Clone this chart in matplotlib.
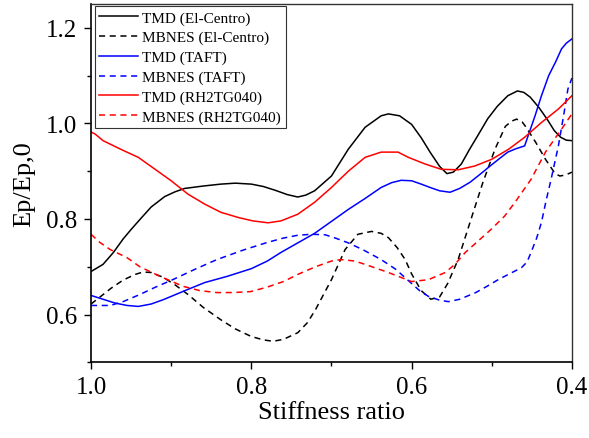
import matplotlib
matplotlib.use('Agg')
import matplotlib.pyplot as plt
from matplotlib.ticker import MultipleLocator

plt.rcParams['font.family'] = ['Liberation Serif', 'DejaVu Serif']

# TMD, El-Centro
x_tmd_el = [1.0, 0.985, 0.972, 0.96, 0.95, 0.94, 0.925, 0.908, 0.895, 0.883, 0.86,
            0.838, 0.82, 0.80, 0.785, 0.77, 0.755, 0.742, 0.732, 0.721, 0.70, 0.679,
            0.658, 0.638, 0.629, 0.615, 0.60, 0.588, 0.577, 0.565, 0.556, 0.548,
            0.538, 0.528, 0.518, 0.505, 0.493, 0.48, 0.468, 0.46, 0.452, 0.441,
            0.431, 0.422, 0.414, 0.407, 0.40]
y_tmd_el = [0.69, 0.705, 0.73, 0.758, 0.778, 0.797, 0.825, 0.847, 0.857, 0.864, 0.869,
            0.873, 0.875, 0.873, 0.868, 0.86, 0.851, 0.846, 0.85, 0.859, 0.89, 0.946,
            0.992, 1.016, 1.02, 1.016, 0.998, 0.97, 0.94, 0.91, 0.895, 0.898,
            0.915, 0.945, 0.973, 1.01, 1.036, 1.058, 1.068, 1.065, 1.055, 1.033,
            1.009, 0.985, 0.971, 0.965, 0.964]

# MBNES, El-Centro
x_mb_el = [1.0, 0.99, 0.975, 0.96, 0.945, 0.935, 0.925, 0.91, 0.895, 0.879, 0.86,
           0.838, 0.82, 0.80, 0.785, 0.773, 0.76, 0.742, 0.73, 0.72, 0.70, 0.683,
           0.667, 0.65, 0.638, 0.629, 0.618, 0.608, 0.60, 0.588, 0.576, 0.565,
           0.555, 0.542, 0.526, 0.511, 0.496, 0.483, 0.475, 0.469, 0.462, 0.458,
           0.445, 0.433, 0.421, 0.415, 0.408, 0.40]
y_mb_el = [0.622, 0.635, 0.655, 0.672, 0.684, 0.689, 0.688, 0.678, 0.662, 0.642, 0.615,
           0.589, 0.57, 0.554, 0.547, 0.544, 0.548, 0.562, 0.583, 0.61, 0.673, 0.736,
           0.768, 0.774, 0.77, 0.761, 0.74, 0.715, 0.685, 0.65, 0.632, 0.637,
           0.665, 0.715, 0.799, 0.877, 0.946, 0.994, 1.005, 1.009, 1.003, 0.994,
           0.96, 0.925, 0.895, 0.89, 0.892, 0.898]

# TMD, TAFT
x_tmd_taft = [1.0, 0.985, 0.97, 0.955, 0.941, 0.925, 0.91, 0.90, 0.88, 0.858, 0.83,
              0.80, 0.78, 0.763, 0.742, 0.721, 0.70, 0.679, 0.658, 0.638, 0.625,
              0.613, 0.60, 0.588, 0.577, 0.565, 0.552, 0.54, 0.527, 0.515, 0.502,
              0.49, 0.48, 0.47, 0.459, 0.446, 0.438, 0.429, 0.42, 0.413, 0.407, 0.40]
y_tmd_taft = [0.64, 0.632, 0.624, 0.619, 0.617, 0.622, 0.631, 0.638, 0.652, 0.667, 0.68,
              0.696, 0.712, 0.73, 0.75, 0.77, 0.795, 0.82, 0.843, 0.866, 0.876,
              0.881, 0.88, 0.873, 0.866, 0.859, 0.856, 0.864, 0.877, 0.893, 0.911,
              0.927, 0.94, 0.947, 0.953, 1.016, 1.058, 1.1, 1.13, 1.156, 1.168, 1.177]

# MBNES, TAFT
x_mb_taft = [1.0, 0.976, 0.96, 0.939, 0.92, 0.898, 0.87, 0.843, 0.81, 0.78, 0.76,
             0.742, 0.725, 0.708, 0.695, 0.679, 0.66, 0.638, 0.62, 0.60, 0.59, 0.579,
             0.565, 0.554, 0.54, 0.52, 0.505, 0.492, 0.477, 0.463, 0.456, 0.451,
             0.444, 0.438, 0.432, 0.426, 0.417, 0.41, 0.405, 0.40]
y_mb_taft = [0.619, 0.619, 0.627, 0.642, 0.657, 0.673, 0.695, 0.715, 0.735, 0.751, 0.76,
             0.766, 0.768, 0.767, 0.76, 0.75, 0.735, 0.715, 0.695, 0.665, 0.65, 0.638,
             0.63, 0.627, 0.632, 0.646, 0.66, 0.673, 0.686, 0.698, 0.71, 0.73,
             0.76, 0.793, 0.84, 0.883, 0.952, 1.02, 1.072, 1.095]

# TMD, RH2TG040
x_tmd_rh = [1.0, 0.995, 0.985, 0.963, 0.941, 0.92, 0.90, 0.879, 0.858, 0.838, 0.816,
            0.798, 0.779, 0.763, 0.742, 0.721, 0.70, 0.679, 0.658, 0.638, 0.617,
            0.604, 0.583, 0.563, 0.542, 0.521, 0.50, 0.479, 0.459, 0.438, 0.417, 0.40]
y_tmd_rh = [0.982, 0.978, 0.964, 0.946, 0.929, 0.904, 0.88, 0.852, 0.831, 0.814, 0.803,
            0.796, 0.792, 0.796, 0.81, 0.835, 0.866, 0.90, 0.929, 0.94, 0.94,
            0.929, 0.915, 0.904, 0.903, 0.911, 0.925, 0.946, 0.971, 1.002, 1.03, 1.058]

# MBNES, RH2TG040
x_mb_rh = [1.0, 0.989, 0.976, 0.955, 0.939, 0.914, 0.885, 0.864, 0.843, 0.823, 0.801,
           0.781, 0.76, 0.742, 0.72, 0.70, 0.688, 0.671, 0.658, 0.629, 0.60, 0.579,
           0.558, 0.546, 0.533, 0.517, 0.501, 0.484, 0.471, 0.451, 0.433, 0.413, 0.40]
y_mb_rh = [0.768, 0.751, 0.736, 0.719, 0.70, 0.68, 0.659, 0.65, 0.646, 0.646, 0.648,
           0.657, 0.669, 0.684, 0.70, 0.712, 0.715, 0.712, 0.705, 0.688, 0.669, 0.673,
           0.688, 0.705, 0.73, 0.754, 0.778, 0.806, 0.835, 0.883, 0.94, 0.988, 1.02]

fig = plt.figure(figsize=(5.89, 4.39), dpi=100)
ax = fig.add_axes([0.1545, 0.1724, 0.8165, 0.8162])

lw = 1.1
dash = (4, 3)
ax.plot(x_tmd_el, y_tmd_el, color='k', lw=lw, label='TMD (El-Centro)')
ax.plot(x_mb_el, y_mb_el, color='k', lw=lw, dashes=dash, label='MBNES (El-Centro)')
ax.plot(x_tmd_taft, y_tmd_taft, color='b', lw=lw, label='TMD (TAFT)')
ax.plot(x_mb_taft, y_mb_taft, color='b', lw=lw, dashes=dash, label='MBNES (TAFT)')
ax.plot(x_tmd_rh, y_tmd_rh, color='r', lw=lw, label='TMD (RH2TG040)')
ax.plot(x_mb_rh, y_mb_rh, color='r', lw=lw, dashes=dash, label='MBNES (RH2TG040)')

ax.set_xlim(1.0, 0.4)
ax.set_ylim(0.5, 1.25)
ax.xaxis.set_major_locator(MultipleLocator(0.2))
ax.xaxis.set_minor_locator(MultipleLocator(0.1))
ax.yaxis.set_major_locator(MultipleLocator(0.2))
ax.yaxis.set_minor_locator(MultipleLocator(0.1))
ax.tick_params(which='both', direction='out', labelsize=18, width=1.0)
ax.tick_params(which='major', length=5, pad=5)
ax.tick_params(which='minor', length=3)

for side in ['left', 'bottom']:
    ax.spines[side].set_linewidth(1.2)
for side in ['top', 'right']:
    ax.spines[side].set_linewidth(1.0)
    ax.spines[side].set_color('#333333')

ax.set_xlabel('Stiffness ratio', fontsize=19, labelpad=2)
ax.set_ylabel('Ep/Ep,0', fontsize=19, labelpad=8)

leg = ax.legend(loc='upper left', bbox_to_anchor=(0.008, 0.994), borderaxespad=0,
                fontsize=11, handlelength=2.5, handletextpad=0.3, labelspacing=0.39,
                borderpad=0.3, fancybox=False, framealpha=1, edgecolor='#333333')
leg.get_frame().set_linewidth(0.8)

fig.savefig('out.png', dpi=100)
